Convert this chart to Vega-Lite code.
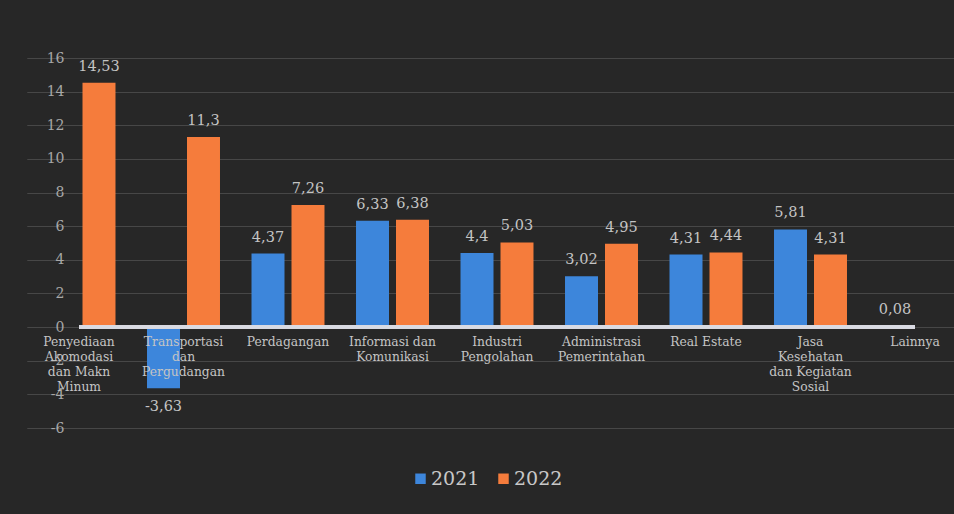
{
  "$schema": "https://vega.github.io/schema/vega-lite/v6.json",
  "autosize": "none",
  "width": 836,
  "height": 370,
  "padding": {"left": 79, "top": 58, "right": 39, "bottom": 86},
  "background": "#272727",
  "data": {
    "values": [
      {"sektor": "Penyediaan Akomodasi dan Makan Minum", "tahun": "2021", "nilai": null},
      {"sektor": "Penyediaan Akomodasi dan Makan Minum", "tahun": "2022", "nilai": 14.53},
      {"sektor": "Transportasi dan Pergudangan", "tahun": "2021", "nilai": -3.63},
      {"sektor": "Transportasi dan Pergudangan", "tahun": "2022", "nilai": 11.3},
      {"sektor": "Perdagangan", "tahun": "2021", "nilai": 4.37},
      {"sektor": "Perdagangan", "tahun": "2022", "nilai": 7.26},
      {"sektor": "Informasi dan Komunikasi", "tahun": "2021", "nilai": 6.33},
      {"sektor": "Informasi dan Komunikasi", "tahun": "2022", "nilai": 6.38},
      {"sektor": "Industri Pengolahan", "tahun": "2021", "nilai": 4.4},
      {"sektor": "Industri Pengolahan", "tahun": "2022", "nilai": 5.03},
      {"sektor": "Administrasi Pemerintahan", "tahun": "2021", "nilai": 3.02},
      {"sektor": "Administrasi Pemerintahan", "tahun": "2022", "nilai": 4.95},
      {"sektor": "Real Estate", "tahun": "2021", "nilai": 4.31},
      {"sektor": "Real Estate", "tahun": "2022", "nilai": 4.44},
      {"sektor": "Jasa Kesehatan dan Kegiatan Sosial", "tahun": "2021", "nilai": 5.81},
      {"sektor": "Jasa Kesehatan dan Kegiatan Sosial", "tahun": "2022", "nilai": 4.31},
      {"sektor": "Lainnya", "tahun": "2021", "nilai": 0.08},
      {"sektor": "Lainnya", "tahun": "2022", "nilai": null}
    ]
  },
  "encoding": {
    "y": {
      "field": "nilai",
      "type": "quantitative",
      "scale": {"domain": [-6, 16], "nice": false},
      "axis": {
        "title": null,
        "values": [-6, -4, -2, 0, 2, 4, 6, 8, 10, 12, 14, 16],
        "labelOverlap": false,
        "labelBound": false,
        "labelFlush": false,
        "domain": false,
        "ticks": false,
        "labelPadding": 15,
        "labelFont": "DejaVu Serif",
        "labelFontSize": 14,
        "labelColor": "#a8a8a8",
        "gridColor": "#474747",
        "gridWidth": 1
      }
    }
  },
  "layer": [
    {
      "mark": {"type": "bar"},
      "encoding": {
        "x": {
          "field": "sektor",
          "type": "nominal",
          "sort": null,
          "scale": {"range": [-52.25, 888.25], "paddingInner": 0, "paddingOuter": 0},
          "axis": {
            "title": null,
            "offset": -101,
            "zindex": 1,
            "domain": false,
            "ticks": false,
            "labelAngle": 0,
            "labelOverlap": false,
            "labelBound": false,
            "labelPadding": 8,
            "labelFont": "DejaVu Serif",
            "labelFontSize": 12.3,
            "labelColor": "#c4c4c4",
            "labelLineHeight": 15,
            "labelExpr": "datum.value == 'Penyediaan Akomodasi dan Makan Minum' ? ['Penyediaan', 'Akomodasi', 'dan Makn', 'Minum'] : datum.value == 'Transportasi dan Pergudangan' ? ['Transportasi', 'dan', 'Pergudangan'] : datum.value == 'Informasi dan Komunikasi' ? ['Informasi dan', 'Komunikasi'] : datum.value == 'Industri Pengolahan' ? ['Industri', 'Pengolahan'] : datum.value == 'Administrasi Pemerintahan' ? ['Administrasi', 'Pemerintahan'] : datum.value == 'Jasa Kesehatan dan Kegiatan Sosial' ? ['Jasa', 'Kesehatan', 'dan Kegiatan', 'Sosial'] : datum.value"
          }
        },
        "xOffset": {
          "field": "tahun",
          "type": "nominal",
          "scale": {"paddingInner": 0.175, "paddingOuter": 0.394}
        },
        "color": {
          "field": "tahun",
          "type": "nominal",
          "scale": {"domain": ["2021", "2022"], "range": ["#3d86db", "#f57c3c"]},
          "legend": {
            "title": null,
            "orient": "none",
            "direction": "horizontal",
            "legendX": 332,
            "legendY": 411,
            "symbolType": "square",
            "symbolSize": 110,
            "symbolStrokeWidth": 0,
            "labelFont": "DejaVu Serif",
            "labelFontSize": 19,
            "labelColor": "#c8c8c8",
            "labelOffset": 1,
            "columnPadding": 14
          }
        }
      }
    },
    {
      "mark": {"type": "rule", "color": "#d9dbe3", "strokeWidth": 2.5},
      "encoding": {"y": {"datum": 0}}
    },
    {
      "transform": [{"filter": "datum.nilai >= 0"}],
      "mark": {"type": "text", "baseline": "bottom", "dy": -9, "font": "DejaVu Serif", "fontSize": 14.5, "color": "#c4c4c4"},
      "encoding": {
        "x": {"field": "sektor", "type": "nominal", "sort": null},
        "xOffset": {"field": "tahun", "type": "nominal"},
        "text": {"field": "nilai", "type": "quantitative", "format": ".2~f"}
      }
    },
    {
      "transform": [{"filter": "datum.nilai < 0"}],
      "mark": {"type": "text", "baseline": "top", "dy": 12, "font": "DejaVu Serif", "fontSize": 14.5, "color": "#c4c4c4"},
      "encoding": {
        "x": {"field": "sektor", "type": "nominal", "sort": null},
        "xOffset": {"field": "tahun", "type": "nominal"},
        "text": {"field": "nilai", "type": "quantitative", "format": ".2~f"}
      }
    }
  ],
  "config": {
    "view": {"stroke": null},
    "axisY": {"labelOverlap": false},
    "locale": {"number": {"decimal": ",", "thousands": ".", "grouping": [3], "currency": ["", ""], "minus": "-"}}
  }
}
